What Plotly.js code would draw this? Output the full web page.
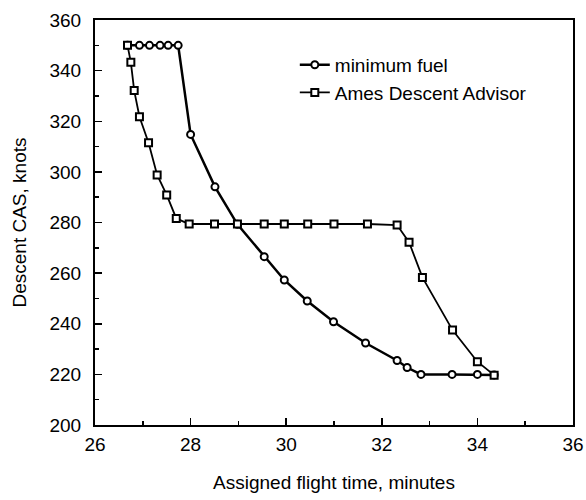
<!DOCTYPE html>
<html>
<head>
<meta charset="utf-8">
<script src="https://cdn.plot.ly/plotly-3.0.1.min.js"></script>
<style>html,body{margin:0;padding:0;background:#fff;}#chart{width:586px;height:500px;}</style>
</head>
<body>
<div id="chart"></div>
<script>
// Minimum fuel profile (circles)
const minFuelTime = [26.68, 26.93, 27.14, 27.36, 27.53, 27.74, 28.0, 28.51, 28.98, 29.54, 29.96, 30.44, 30.99, 31.66, 32.32, 32.53, 32.82, 33.47, 34.0, 34.35];
const minFuelCAS  = [350, 350, 350, 350, 350, 350, 314.8, 294.1, 279.3, 266.5, 257.3, 249.0, 240.8, 232.4, 225.5, 222.7, 220.0, 220.0, 220.0, 219.8];

// Ames Descent Advisor profile (squares)
const amesTime = [26.68, 26.75, 26.82, 26.93, 27.12, 27.30, 27.50, 27.70, 27.97, 28.50, 28.98, 29.54, 29.96, 30.45, 31.0, 31.70, 32.32, 32.57, 32.85, 33.48, 34.0, 34.35];
const amesCAS  = [350, 343.3, 332.1, 321.8, 311.5, 298.8, 290.9, 281.6, 279.4, 279.4, 279.4, 279.4, 279.4, 279.4, 279.4, 279.4, 279.0, 272.2, 258.3, 237.5, 225.0, 219.7];

const xTicks = [26, 28, 30, 32, 34, 36];
const yTicks = [200, 220, 240, 260, 280, 300, 320, 340, 360];

const FONT = 'Liberation Sans, Arial, Helvetica, sans-serif';

const traces = [
  {
    x: minFuelTime, y: minFuelCAS, name: 'minimum fuel',
    type: 'scatter', mode: 'lines+markers',
    line: {color: '#000', width: 2.5},
    marker: {symbol: 'circle', size: 7, color: '#fff', line: {color: '#000', width: 2}}
  },
  {
    x: amesTime, y: amesCAS, name: 'Ames Descent Advisor',
    type: 'scatter', mode: 'lines+markers',
    line: {color: '#000', width: 1.8},
    marker: {symbol: 'square', size: 7, color: '#fff', line: {color: '#000', width: 2}}
  }
];

const layout = {
  width: 586, height: 500,
  margin: {l: 95, r: 13, t: 20, b: 75},
  paper_bgcolor: '#fff', plot_bgcolor: '#fff',
  font: {family: FONT, color: '#000', size: 19},
  showlegend: true,
  legend: {
    x: 0.418, y: 0.936, xanchor: 'left', yanchor: 'top',
    bgcolor: 'rgba(0,0,0,0)', borderwidth: 0,
    font: {family: FONT, size: 19, color: '#000'}
  },
  xaxis: {
    range: [26, 36], tickvals: xTicks, ticktext: xTicks.map(String),
    showgrid: false, zeroline: false,
    showline: true, linecolor: '#000', linewidth: 2, mirror: true,
    ticks: 'inside', ticklen: 7, tickwidth: 1.5, tickcolor: '#000',
    minor: {dtick: 1, ticks: 'inside', ticklen: 4, tickwidth: 1.5, tickcolor: '#000', showgrid: false},
    tickfont: {family: FONT, size: 19, color: '#000'},
    ticklabelstandoff: 1,
    title: {text: 'Assigned flight time, minutes', font: {family: FONT, size: 19, color: '#000'}, standoff: 22}
  },
  yaxis: {
    range: [200, 360], tickvals: yTicks, ticktext: yTicks.map(String),
    showgrid: false, zeroline: false,
    showline: true, linecolor: '#000', linewidth: 2, mirror: true,
    ticks: 'inside', ticklen: 7, tickwidth: 1.5, tickcolor: '#000',
    minor: {dtick: 10, ticks: 'inside', ticklen: 4, tickwidth: 1.5, tickcolor: '#000', showgrid: false},
    tickfont: {family: FONT, size: 19, color: '#000'},
    ticklabelstandoff: 8,
    title: {text: 'Descent CAS, knots', font: {family: FONT, size: 19, color: '#000'}, standoff: 18}
  }
};

Plotly.newPlot('chart', traces, layout, {displayModeBar: false, staticPlot: true});
</script>
</body>
</html>
